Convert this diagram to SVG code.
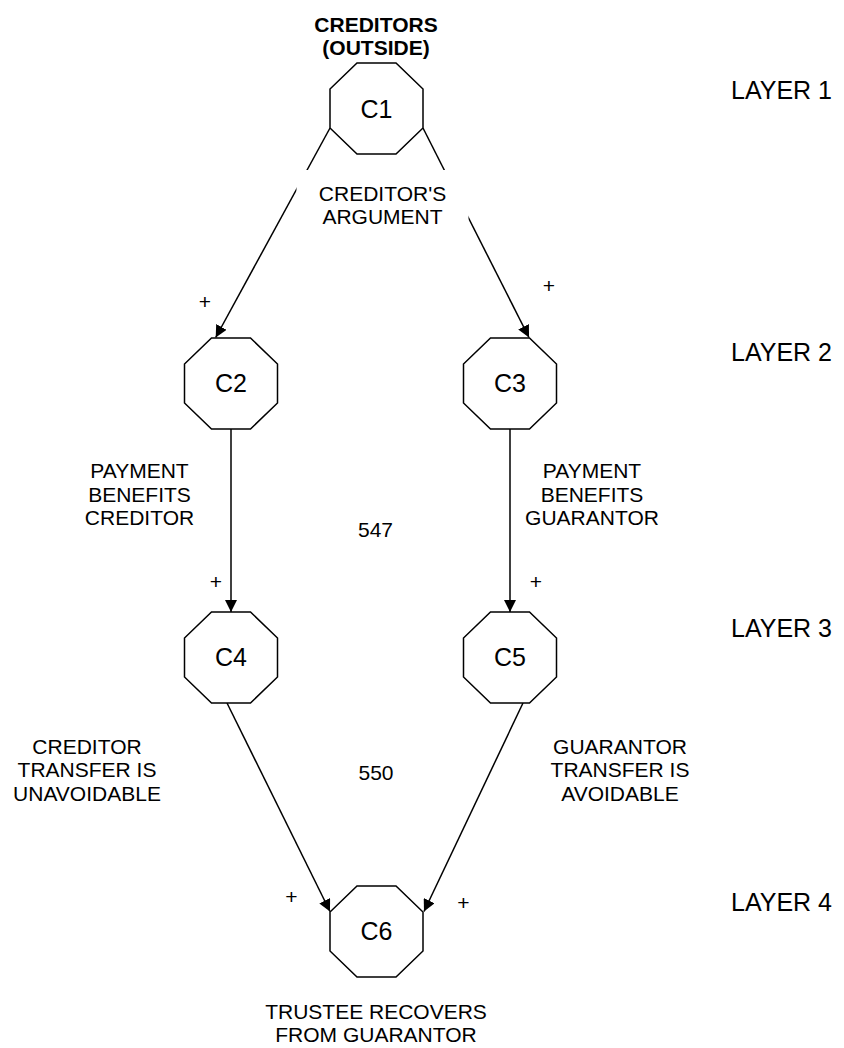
<svg xmlns="http://www.w3.org/2000/svg" width="844" height="1048" viewBox="0 0 844 1048">
<style>
.oct{fill:#fff;stroke:#000;stroke-width:1.5}
.edge{fill:none;stroke:#000;stroke-width:1.5}
.nl{font-family:"Liberation Sans",Arial,sans-serif;font-size:25px;text-anchor:middle;fill:#000}
.lb{font-family:"Liberation Sans",Arial,sans-serif;font-size:21px;text-anchor:middle;fill:#000}
.ly{font-family:"Liberation Sans",Arial,sans-serif;font-size:25px;fill:#000}
.bold{font-weight:bold}
</style>
<defs>
<marker id="arr" markerUnits="userSpaceOnUse" markerWidth="12" markerHeight="12" refX="12" refY="6" orient="auto">
<path d="M0,0 L12,6 L0,12 z" fill="#000"/>
</marker>
<path id="octa" d="M27,0 h39 l27,26 v39 l-27,26 h-39 l-27,-26 v-39 z"/>
</defs>
<rect width="844" height="1048" fill="#fff"/>
<g id="connectors">
<line class="edge" x1="330" y1="128" x2="215.7" y2="337.5" marker-end="url(#arr)"/>
<line class="edge" x1="423" y1="128" x2="529" y2="337.5" marker-end="url(#arr)"/>
<line class="edge" x1="231" y1="429" x2="231" y2="612" marker-end="url(#arr)"/>
<line class="edge" x1="510" y1="429" x2="510" y2="612" marker-end="url(#arr)"/>
<line class="edge" x1="227" y1="703" x2="330" y2="911.5" marker-end="url(#arr)"/>
<line class="edge" x1="523" y1="703" x2="424" y2="911.5" marker-end="url(#arr)"/>
</g>
<g id="edge-labels">
<rect x="296.5" y="170" width="172" height="55" fill="#fff"/>
<text class="lb" x="382.5" y="201">CREDITOR'S</text>
<text class="lb" x="382.5" y="224">ARGUMENT</text>
<text class="lb" x="139.5" y="478">PAYMENT</text>
<text class="lb" x="139.5" y="501.5">BENEFITS</text>
<text class="lb" x="139.5" y="525">CREDITOR</text>
<text class="lb" x="592" y="478">PAYMENT</text>
<text class="lb" x="592" y="501.5">BENEFITS</text>
<text class="lb" x="592" y="525">GUARANTOR</text>
<text class="lb" x="375.5" y="537">547</text>
<text class="lb" x="87" y="753.5">CREDITOR</text>
<text class="lb" x="87" y="777">TRANSFER IS</text>
<text class="lb" x="87" y="800.5">UNAVOIDABLE</text>
<text class="lb" x="620" y="753.5">GUARANTOR</text>
<text class="lb" x="620" y="777">TRANSFER IS</text>
<text class="lb" x="620" y="800.5">AVOIDABLE</text>
<text class="lb" x="376" y="780">550</text>
<text class="lb" x="205" y="309">+</text>
<text class="lb" x="549" y="292.5">+</text>
<text class="lb" x="216" y="588.5">+</text>
<text class="lb" x="536" y="589">+</text>
<text class="lb" x="291.5" y="904">+</text>
<text class="lb" x="463.5" y="910">+</text>
</g>
<g id="C1">
<use href="#octa" class="oct" x="330" y="63"/>
<text class="nl" x="376.5" y="118">C1</text>
<text class="lb bold" x="376" y="31.5">CREDITORS</text>
<text class="lb bold" x="376" y="54.5">(OUTSIDE)</text>
</g>
<g id="C2">
<use href="#octa" class="oct" x="184.5" y="338"/>
<text class="nl" x="231" y="392">C2</text>
</g>
<g id="C3">
<use href="#octa" class="oct" x="463.5" y="338"/>
<text class="nl" x="510" y="392">C3</text>
</g>
<g id="C4">
<use href="#octa" class="oct" x="184.5" y="612"/>
<text class="nl" x="231" y="666">C4</text>
</g>
<g id="C5">
<use href="#octa" class="oct" x="463.5" y="612"/>
<text class="nl" x="510" y="666">C5</text>
</g>
<g id="C6">
<use href="#octa" class="oct" x="330" y="886"/>
<text class="nl" x="376.5" y="940">C6</text>
<text class="lb" x="376" y="1018.5">TRUSTEE RECOVERS</text>
<text class="lb" x="376" y="1042">FROM GUARANTOR</text>
</g>
<g id="layers">
<text class="ly" x="731" y="99">LAYER 1</text>
<text class="ly" x="731" y="361">LAYER 2</text>
<text class="ly" x="731" y="637">LAYER 3</text>
<text class="ly" x="731" y="911">LAYER 4</text>
</g>
</svg>
